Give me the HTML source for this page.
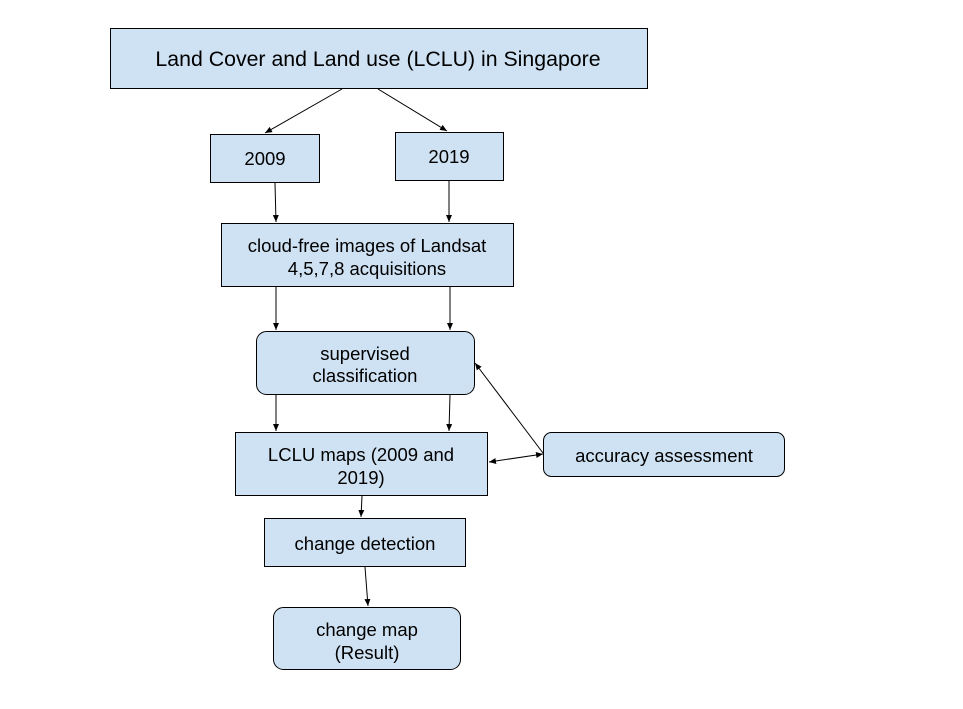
<!DOCTYPE html>
<html><head><meta charset="utf-8"><style>
html,body{margin:0;padding:0;background:#fff;}
svg{display:block;}
text{font-family:"Liberation Sans",Arial,sans-serif;fill:#000;text-anchor:middle;}
</style></head><body>
<svg width="963" height="709" viewBox="0 0 963 709" xmlns="http://www.w3.org/2000/svg">
<defs>
<marker id="a" markerWidth="8" markerHeight="8" refX="7" refY="4" orient="auto" markerUnits="userSpaceOnUse">
<path d="M0,1 L7,4 L0,7 z" fill="#000"/></marker>
<marker id="s" markerWidth="8" markerHeight="8" refX="1" refY="4" orient="auto" markerUnits="userSpaceOnUse">
<path d="M8,1 L1,4 L8,7 z" fill="#000"/></marker>
</defs>
<g fill="#cfe2f3" stroke="#000" stroke-width="1">
<rect x="110.5" y="28.5" width="537" height="60"/>
<rect x="210.5" y="134.5" width="109" height="48"/>
<rect x="395.5" y="132.5" width="108" height="48"/>
<rect x="221.5" y="223.5" width="292" height="63"/>
<rect x="256.5" y="331.5" width="218" height="63" rx="10"/>
<rect x="235.5" y="432.5" width="252" height="63"/>
<rect x="543.5" y="432.5" width="241" height="44" rx="8"/>
<rect x="264.5" y="518.5" width="201" height="48"/>
<rect x="273.5" y="607.5" width="187" height="62" rx="10"/>
</g>
<g stroke="#000" stroke-width="1" fill="none" marker-end="url(#a)">
<line x1="342" y1="89" x2="265" y2="133"/>
<line x1="378" y1="89" x2="447" y2="131"/>
<line x1="275" y1="183" x2="276" y2="222"/>
<line x1="449" y1="181" x2="449" y2="222"/>
<line x1="276" y1="287" x2="276" y2="330"/>
<line x1="450" y1="287" x2="450" y2="330"/>
<line x1="276" y1="395" x2="276" y2="431"/>
<line x1="450" y1="395" x2="449" y2="431"/>
<line x1="543" y1="453" x2="475" y2="363"/>
<line x1="489" y1="462" x2="543" y2="454" marker-start="url(#s)"/>
<line x1="362" y1="496" x2="361" y2="517"/>
<line x1="365" y1="567" x2="368" y2="606"/>
</g>
<text x="378" y="66" font-size="21.3">Land Cover and Land use (LCLU) in Singapore</text>
<text x="265" y="165" font-size="18.5">2009</text>
<text x="449" y="163" font-size="18.5">2019</text>
<text x="367" y="252" font-size="18.5">cloud-free images of Landsat</text>
<text x="367" y="275" font-size="18.5">4,5,7,8 acquisitions</text>
<text x="365" y="360" font-size="18.5">supervised</text>
<text x="365" y="382" font-size="18.5">classification</text>
<text x="361" y="461" font-size="18.5">LCLU maps (2009 and</text>
<text x="361" y="484" font-size="18.5">2019)</text>
<text x="664" y="462" font-size="18.5">accuracy assessment</text>
<text x="365" y="550" font-size="18.5">change detection</text>
<text x="367" y="636" font-size="18.5">change map</text>
<text x="367" y="659" font-size="18.5">(Result)</text>
</svg>
</body></html>
